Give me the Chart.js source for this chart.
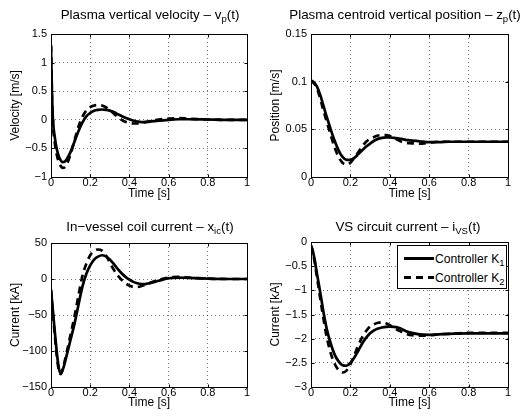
<!DOCTYPE html>
<html><head><meta charset="utf-8">
<script src="https://cdn.jsdelivr.net/npm/chart.js@4"></script>
<style>
html,body{margin:0;padding:0;background:#fff;}
#fig{position:relative;width:525px;height:416px;overflow:hidden;font-family:"Liberation Sans",Arial,Helvetica,sans-serif;color:#000;}
canvas{position:absolute;}
.title{position:absolute;width:300px;font-size:13.4px;line-height:13px;text-align:center;white-space:nowrap;}
.title sub,.lt sub{font-size:9.5px;vertical-align:-3px;line-height:0;}
.legend{position:absolute;box-sizing:border-box;border:1px solid #000;background:#fff;}
.ls{position:absolute;left:6px;width:30px;height:3px;}
.solid{background:#000;}
.dashed{background:repeating-linear-gradient(to right,#000 0 7px,transparent 7px 12px);}
.lt{position:absolute;left:37px;font-size:12.2px;line-height:12px;white-space:nowrap;}
</style></head><body>
<div id="fig">
 <canvas id="c1" width="262" height="208" style="left:0;top:0"></canvas>
 <canvas id="c2" width="263" height="208" style="left:262px;top:0"></canvas>
 <canvas id="c3" width="262" height="208" style="left:0;top:208px"></canvas>
 <canvas id="c4" width="263" height="208" style="left:262px;top:208px"></canvas>
 <div class="title" style="left:0px;top:8px">Plasma vertical velocity – v<sub>p</sub>(t)</div>
 <div class="title" style="left:255px;top:8px">Plasma centroid vertical position – z<sub>p</sub>(t)</div>
 <div class="title" style="left:0px;top:219.5px">In−vessel coil current – x<sub>ic</sub>(t)</div>
 <div class="title" style="left:258px;top:219.5px">VS circuit current – i<sub>VS</sub>(t)</div>
 <div class="legend" style="left:397px;top:245px;width:110px;height:44px;">
   <div class="ls solid" style="top:11px"></div>
   <div class="lt" style="top:7px">Controller K<sub>1</sub></div>
   <div class="ls dashed" style="top:30px"></div>
   <div class="lt" style="top:26px">Controller K<sub>2</sub></div>
 </div>
</div>
<script>
const time = [0,0.005,0.01,0.02,0.03,0.04,0.05,0.06,0.07,0.08,0.1,0.12,0.14,0.16,0.18,0.2,0.22,0.24,0.26,0.28,0.3,0.32,0.34,0.36,0.38,0.4,0.42,0.44,0.46,0.48,0.5,0.55,0.6,0.65,0.7,0.8,0.9,1.0];

const velK1 = [1.3,0.45,0.0,-0.32,-0.52,-0.64,-0.71,-0.74,-0.73,-0.69,-0.56,-0.38,-0.2,-0.05,0.06,0.12,0.16,0.175,0.18,0.175,0.16,0.135,0.1,0.065,0.035,0.01,-0.015,-0.03,-0.04,-0.04,-0.035,-0.015,0.0,0.01,0.01,0.005,0.0,0.0];
const velK2 = [1.3,0.4,-0.08,-0.42,-0.62,-0.74,-0.81,-0.84,-0.83,-0.78,-0.6,-0.36,-0.12,0.05,0.16,0.22,0.25,0.26,0.25,0.22,0.17,0.11,0.05,0.0,-0.035,-0.055,-0.065,-0.065,-0.055,-0.04,-0.025,0.005,0.02,0.03,0.02,0.005,0.0,0.0];

const posK1 = [0.101,0.1005,0.1,0.098,0.095,0.09,0.084,0.077,0.07,0.063,0.05,0.038,0.028,0.021,0.018,0.018,0.02,0.024,0.028,0.032,0.035,0.038,0.04,0.041,0.0415,0.0415,0.041,0.0405,0.04,0.039,0.0385,0.0375,0.0365,0.0365,0.037,0.037,0.037,0.037];
const posK2 = [0.101,0.1005,0.0995,0.097,0.093,0.087,0.08,0.072,0.065,0.058,0.044,0.031,0.021,0.015,0.013,0.015,0.02,0.026,0.032,0.037,0.04,0.042,0.0435,0.044,0.044,0.043,0.041,0.039,0.037,0.036,0.0355,0.035,0.036,0.037,0.037,0.037,0.037,0.037];

const coilK1 = [-15,-30,-45,-75,-103,-124,-131,-126,-117,-106,-84,-62,-36,-11,7,19,27,31,33,31.5,27,21,14,8,3,-1,-4,-6,-7,-7,-6,-2.5,1,2,1.5,0.5,0,0];
const coilK2 = [-15,-32,-48,-80,-108,-127,-132,-125,-114,-102,-77,-52,-23,4,21,33,39,41,39.5,33,23,13,5,-1,-6,-9,-11,-11,-10,-8,-6,-1,2,3,2,0.5,0,0];

const vsK1 = [-0.08,-0.13,-0.2,-0.4,-0.65,-0.88,-1.12,-1.37,-1.6,-1.8,-2.1,-2.33,-2.47,-2.55,-2.56,-2.5,-2.39,-2.25,-2.1,-1.98,-1.89,-1.83,-1.79,-1.77,-1.755,-1.75,-1.755,-1.77,-1.8,-1.84,-1.87,-1.91,-1.92,-1.91,-1.9,-1.89,-1.89,-1.89];
const vsK2 = [-0.08,-0.13,-0.22,-0.45,-0.72,-0.98,-1.25,-1.5,-1.75,-1.97,-2.3,-2.52,-2.65,-2.7,-2.66,-2.53,-2.34,-2.14,-1.97,-1.84,-1.75,-1.7,-1.67,-1.66,-1.68,-1.72,-1.77,-1.82,-1.86,-1.9,-1.92,-1.94,-1.93,-1.91,-1.9,-1.88,-1.88,-1.88];

const xTicks = [0,0.2,0.4,0.6,0.8,1];
const velTicks = [-1,-0.5,0,0.5,1,1.5];
const posTicks = [0,0.05,0.1,0.15];
const coilTicks = [-150,-100,-50,0,50];
const vsTicks = [-3,-2.5,-2,-1.5,-1,-0.5,0];

const seriesNames = ['Controller K1','Controller K2'];

Chart.defaults.font.family = '"Liberation Sans", Arial, Helvetica, sans-serif';
Chart.defaults.color = '#000';

function fmt(v){ return String(Math.round(v*10000)/10000).replace('-', '\u2212'); }

const boxPlugin = {
  id: 'matlabBox',
  afterDraw(chart){
    const {ctx, chartArea:a, scales:{x, y}} = chart;
    ctx.save();
    ctx.strokeStyle = '#000';
    ctx.lineWidth = 1;
    const L = a.left + 0.5, R = a.right + 0.5, T = a.top + 0.5, B = a.bottom + 0.5;
    ctx.strokeRect(L, T, R - L, B - T);
    ctx.beginPath();
    x.ticks.forEach(t => {
      const px = Math.round(x.getPixelForValue(t.value)) + 0.5;
      ctx.moveTo(px, B); ctx.lineTo(px, B - 3);
      ctx.moveTo(px, T); ctx.lineTo(px, T + 3);
    });
    y.ticks.forEach(t => {
      const py = Math.round(y.getPixelForValue(t.value)) + 0.5;
      ctx.moveTo(L, py); ctx.lineTo(L + 3, py);
      ctx.moveTo(R, py); ctx.lineTo(R - 3, py);
    });
    ctx.stroke();
    ctx.restore();
  }
};

function makeChart(id, s1, s2, yTicks, yLabel, o){
  new Chart(document.getElementById(id), {
    type: 'line',
    data: { datasets: [
      {label: seriesNames[0], data: time.map((t,i)=>({x:t, y:s1[i]})), borderColor:'#000', borderWidth:2.7, pointRadius:0, cubicInterpolationMode:'monotone', fill:false},
      {label: seriesNames[1], data: time.map((t,i)=>({x:t, y:s2[i]})), borderColor:'#000', borderWidth:2.7, borderDash:[7,5], pointRadius:0, cubicInterpolationMode:'monotone', fill:false}
    ]},
    options: {
      responsive:false, animation:false, devicePixelRatio:1,
      layout:{padding:{top:o.top, right:o.right, left:0, bottom:0}},
      plugins:{legend:{display:false}, tooltip:{enabled:false}, title:{display:false}},
      scales:{
        x:{type:'linear', min:0, max:1,
          afterBuildTicks: s => { s.ticks = xTicks.map(v=>({value:v})); },
          afterFit: s => { s.height = o.xh; },
          ticks:{callback: v=>fmt(v), font:{size:11}, padding:-1, maxRotation:0, autoSkip:false, color:'#000'},
          grid:{drawTicks:false, color:'rgba(0,0,0,0.55)', lineWidth:1},
          border:{display:false, dash:[1,3]},
          title:{display:true, text:'Time [s]', font:{size:12}, color:'#000', padding:{top:0, bottom:o.xtp}}
        },
        y:{type:'linear', min:yTicks[0], max:yTicks[yTicks.length-1],
          afterBuildTicks: s => { s.ticks = yTicks.map(v=>({value:v})); },
          afterFit: s => { s.width = o.yw; },
          ticks:{callback: v=>fmt(v), font:{size:11}, padding:4, autoSkip:false, color:'#000'},
          grid:{drawTicks:false, color:'rgba(0,0,0,0.55)', lineWidth:1},
          border:{display:false, dash:[1,3]},
          title:{display:true, text:yLabel, font:{size:12}, color:'#000', padding:{top:o.ytp, bottom:0}}
        }
      }
    },
    plugins:[boxPlugin]
  });
}

makeChart('c1', velK1, velK2, velTicks, 'Velocity [m/s]', {top:34, right:15, yw:51, xh:31, xtp:7, ytp:8.5});
makeChart('c2', posK1, posK2, posTicks, 'Position [m/s]', {top:34, right:17, yw:49, xh:31, xtp:7, ytp:6});
makeChart('c3', coilK1, coilK2, coilTicks, 'Current [kA]', {top:35, right:15, yw:51, xh:29, xtp:6.5, ytp:8});
makeChart('c4', vsK1, vsK2, vsTicks, 'Current [kA]', {top:34, right:17, yw:49, xh:29, xtp:6.5, ytp:6});
</script>
</body></html>
